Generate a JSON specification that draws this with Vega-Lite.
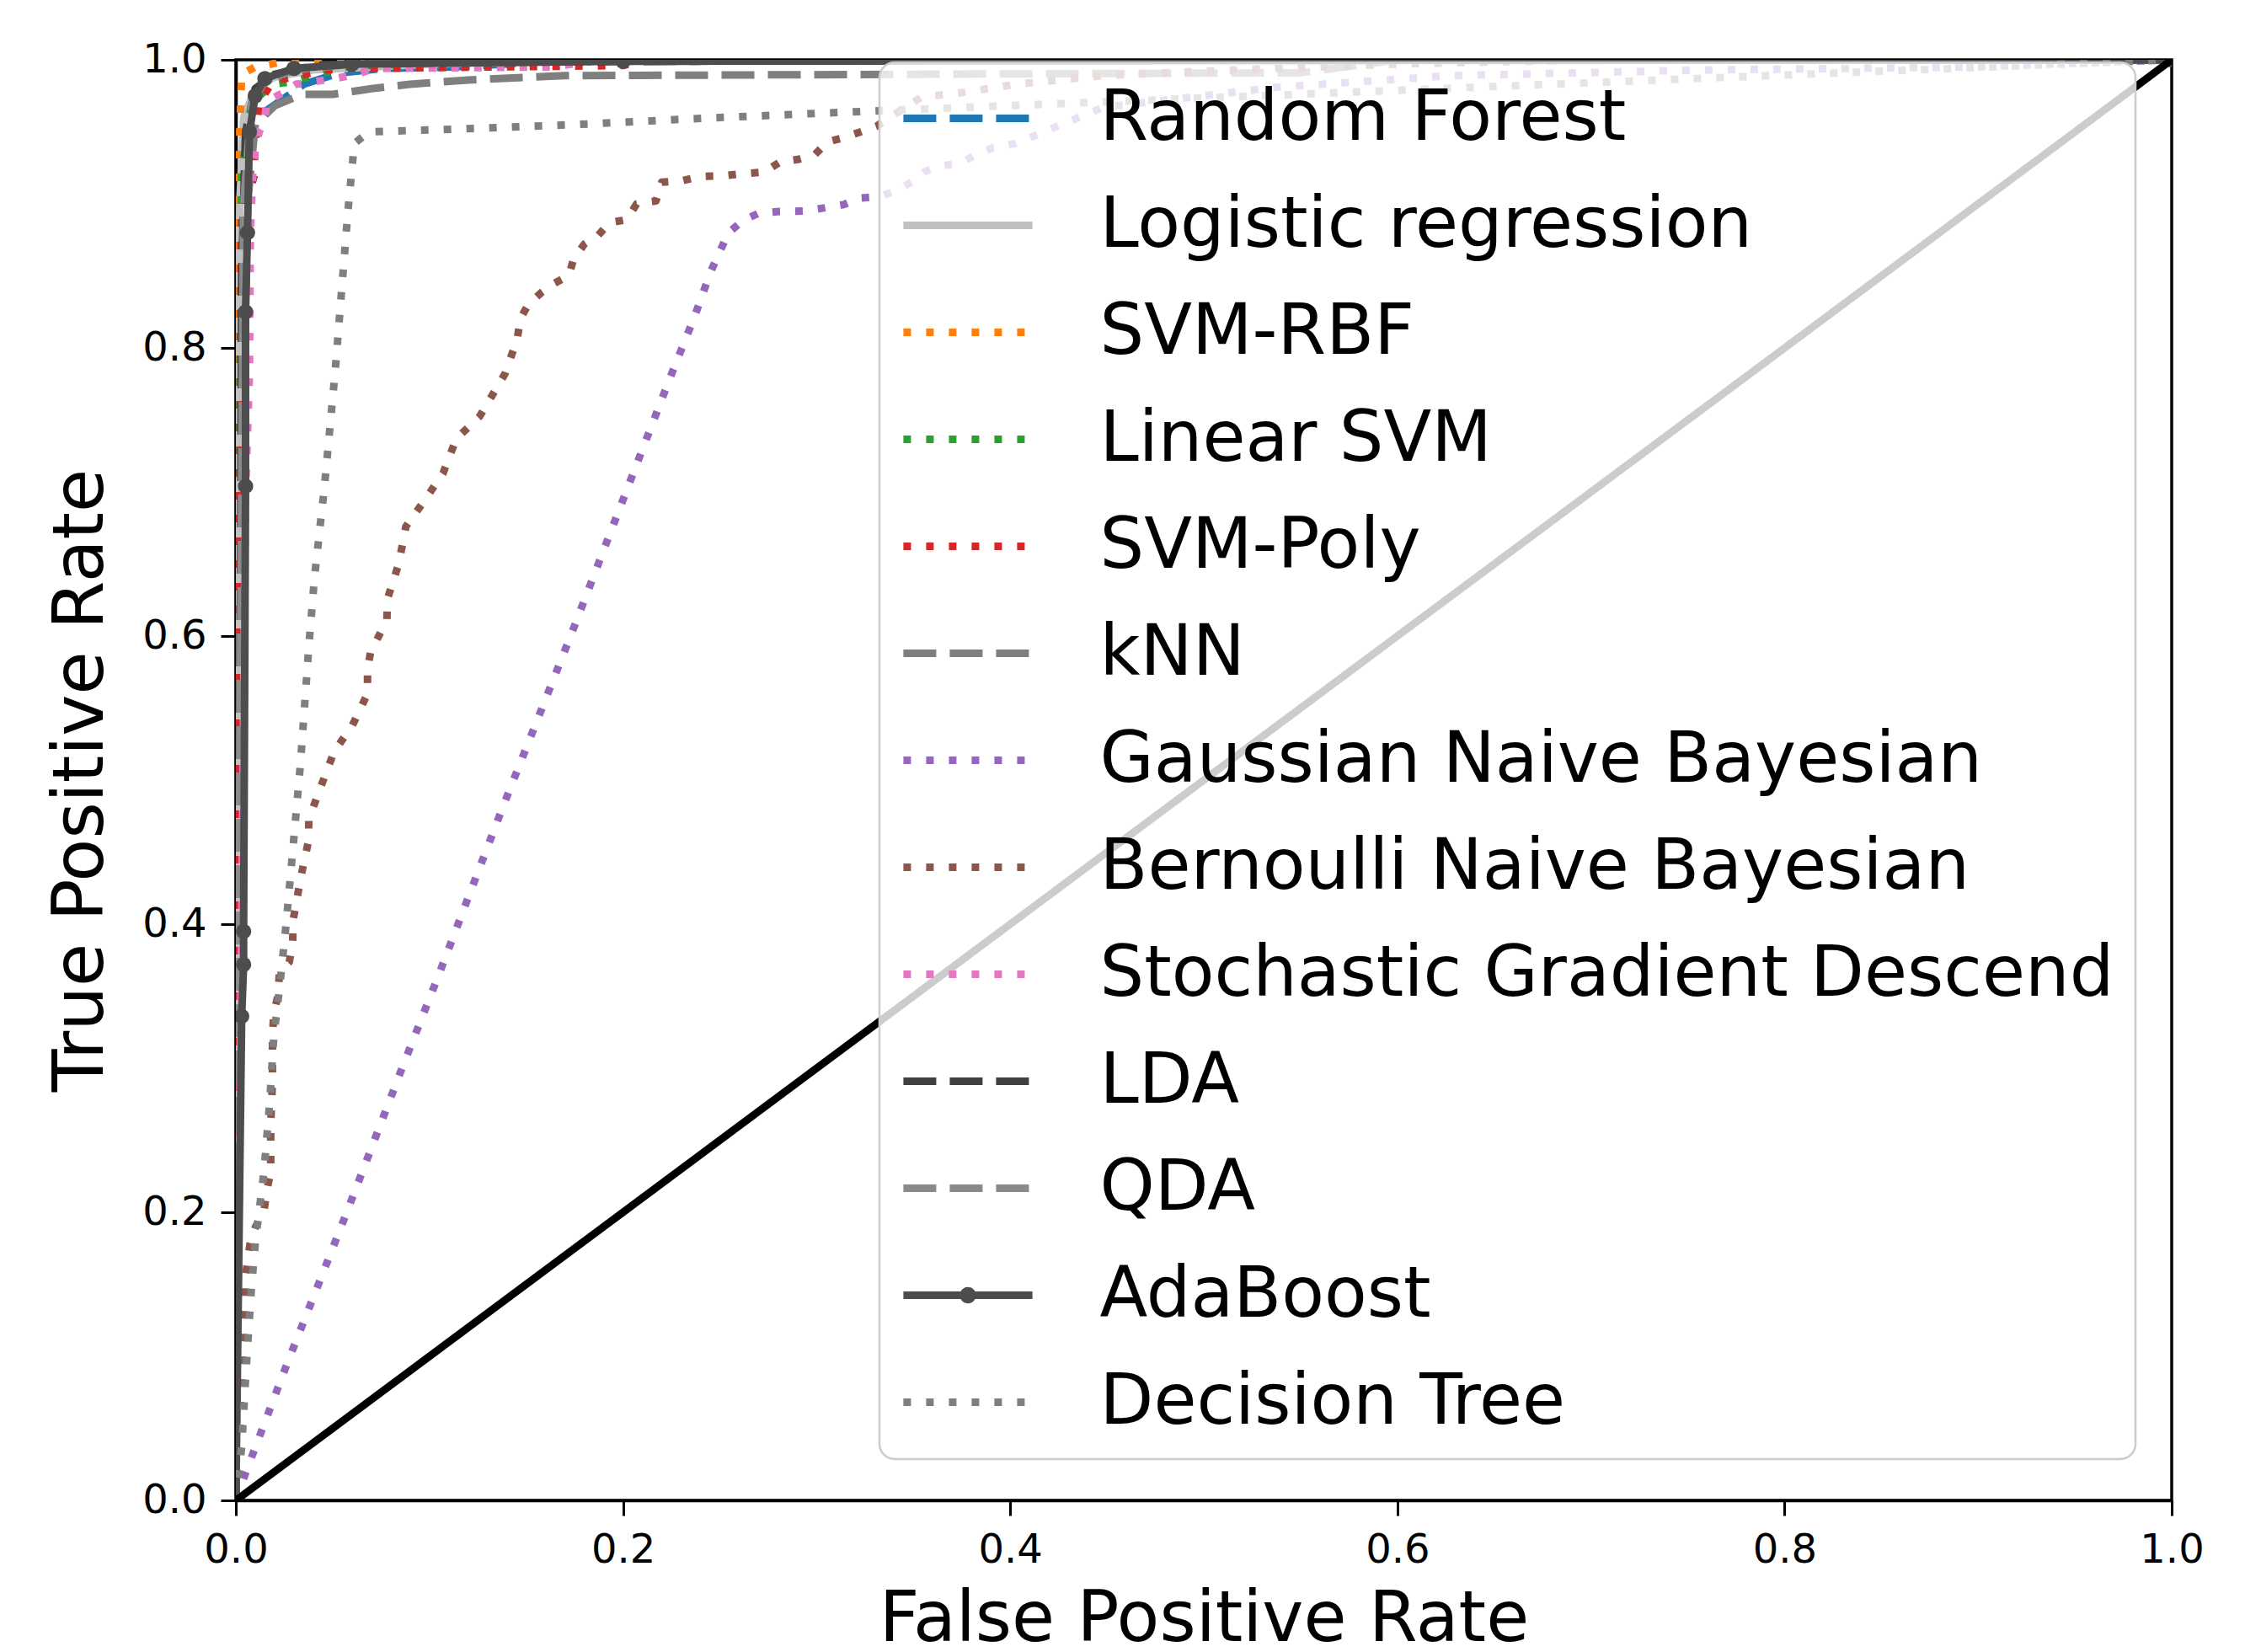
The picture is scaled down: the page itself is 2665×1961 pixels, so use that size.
{
  "$schema": "https://vega.github.io/schema/vega-lite/v6.json",
  "width": 2298,
  "height": 1710,
  "autosize": {"type": "none"},
  "padding": {"left": 280, "top": 71, "right": 87, "bottom": 180},
  "background": "white",
  "config": {
    "font": "DejaVu Sans",
    "view": {"stroke": "black", "strokeWidth": 3.5},
    "axis": {
      "domainColor": "black", "domainWidth": 3.5,
      "tickColor": "black", "tickWidth": 3, "tickSize": 18,
      "labelFont": "DejaVu Sans", "labelFontSize": 48, "labelColor": "black", "labelPadding": 17,
      "labelFlush": false, "labelOverlap": false, "labelBound": false,
      "titleFont": "DejaVu Sans", "titleFontSize": 83, "titleFontWeight": "normal", "titleColor": "black",
      "grid": false
    }
  },
  "datasets": {
    "roc": [
      {"model": "Random Forest", "fpr": 0, "tpr": 0},
      {"model": "Random Forest", "fpr": 0.001, "tpr": 0.5},
      {"model": "Random Forest", "fpr": 0.003, "tpr": 0.85},
      {"model": "Random Forest", "fpr": 0.006, "tpr": 0.93},
      {"model": "Random Forest", "fpr": 0.01, "tpr": 0.955},
      {"model": "Random Forest", "fpr": 0.016, "tpr": 0.965},
      {"model": "Random Forest", "fpr": 0.03, "tpr": 0.978},
      {"model": "Random Forest", "fpr": 0.035, "tpr": 0.983},
      {"model": "Random Forest", "fpr": 0.054, "tpr": 0.991},
      {"model": "Random Forest", "fpr": 0.076, "tpr": 0.994},
      {"model": "Random Forest", "fpr": 0.111, "tpr": 0.995},
      {"model": "Random Forest", "fpr": 0.14, "tpr": 0.997},
      {"model": "Random Forest", "fpr": 0.16, "tpr": 1},
      {"model": "Random Forest", "fpr": 1, "tpr": 1},

      {"model": "Logistic regression", "fpr": 0, "tpr": 0},
      {"model": "Logistic regression", "fpr": 0.001, "tpr": 0.5},
      {"model": "Logistic regression", "fpr": 0.002, "tpr": 0.9},
      {"model": "Logistic regression", "fpr": 0.004, "tpr": 0.96},
      {"model": "Logistic regression", "fpr": 0.01, "tpr": 0.98},
      {"model": "Logistic regression", "fpr": 0.02, "tpr": 0.988},
      {"model": "Logistic regression", "fpr": 0.04, "tpr": 0.993},
      {"model": "Logistic regression", "fpr": 0.1, "tpr": 0.997},
      {"model": "Logistic regression", "fpr": 0.2, "tpr": 1},
      {"model": "Logistic regression", "fpr": 1, "tpr": 1},

      {"model": "SVM-RBF", "fpr": 0, "tpr": 0},
      {"model": "SVM-RBF", "fpr": 0.001, "tpr": 0.6},
      {"model": "SVM-RBF", "fpr": 0.002, "tpr": 0.95},
      {"model": "SVM-RBF", "fpr": 0.003, "tpr": 0.99},
      {"model": "SVM-RBF", "fpr": 0.01, "tpr": 0.995},
      {"model": "SVM-RBF", "fpr": 0.03, "tpr": 1},
      {"model": "SVM-RBF", "fpr": 1, "tpr": 1},

      {"model": "Linear SVM", "fpr": 0, "tpr": 0},
      {"model": "Linear SVM", "fpr": 0.001, "tpr": 0.6},
      {"model": "Linear SVM", "fpr": 0.003, "tpr": 0.92},
      {"model": "Linear SVM", "fpr": 0.008, "tpr": 0.97},
      {"model": "Linear SVM", "fpr": 0.019, "tpr": 0.983},
      {"model": "Linear SVM", "fpr": 0.03, "tpr": 0.985},
      {"model": "Linear SVM", "fpr": 0.04, "tpr": 0.989},
      {"model": "Linear SVM", "fpr": 0.056, "tpr": 0.995},
      {"model": "Linear SVM", "fpr": 0.1, "tpr": 0.998},
      {"model": "Linear SVM", "fpr": 0.15, "tpr": 1},
      {"model": "Linear SVM", "fpr": 1, "tpr": 1},

      {"model": "SVM-Poly", "fpr": 0, "tpr": 0},
      {"model": "SVM-Poly", "fpr": 0.001, "tpr": 0.5},
      {"model": "SVM-Poly", "fpr": 0.003, "tpr": 0.89},
      {"model": "SVM-Poly", "fpr": 0.0096, "tpr": 0.92},
      {"model": "SVM-Poly", "fpr": 0.0096, "tpr": 0.935},
      {"model": "SVM-Poly", "fpr": 0.012, "tpr": 0.97},
      {"model": "SVM-Poly", "fpr": 0.019, "tpr": 0.985},
      {"model": "SVM-Poly", "fpr": 0.046, "tpr": 0.993},
      {"model": "SVM-Poly", "fpr": 0.06, "tpr": 0.994},
      {"model": "SVM-Poly", "fpr": 0.2, "tpr": 0.996},
      {"model": "SVM-Poly", "fpr": 0.21, "tpr": 1},
      {"model": "SVM-Poly", "fpr": 1, "tpr": 1},

      {"model": "kNN", "fpr": 0, "tpr": 0},
      {"model": "kNN", "fpr": 0.002, "tpr": 0.6},
      {"model": "kNN", "fpr": 0.006, "tpr": 0.9},
      {"model": "kNN", "fpr": 0.01, "tpr": 0.955},
      {"model": "kNN", "fpr": 0.02, "tpr": 0.968},
      {"model": "kNN", "fpr": 0.034, "tpr": 0.976},
      {"model": "kNN", "fpr": 0.05, "tpr": 0.976},
      {"model": "kNN", "fpr": 0.07, "tpr": 0.98},
      {"model": "kNN", "fpr": 0.09, "tpr": 0.983},
      {"model": "kNN", "fpr": 0.12, "tpr": 0.986},
      {"model": "kNN", "fpr": 0.17, "tpr": 0.989},
      {"model": "kNN", "fpr": 0.55, "tpr": 0.991},
      {"model": "kNN", "fpr": 0.6, "tpr": 1},
      {"model": "kNN", "fpr": 1, "tpr": 1},

      {"model": "Gaussian Naive Bayesian", "fpr": 0, "tpr": 0},
      {"model": "Gaussian Naive Bayesian", "fpr": 0.005, "tpr": 0.019},
      {"model": "Gaussian Naive Bayesian", "fpr": 0.0261, "tpr": 0.0936},
      {"model": "Gaussian Naive Bayesian", "fpr": 0.0566, "tpr": 0.1976},
      {"model": "Gaussian Naive Bayesian", "fpr": 0.0863, "tpr": 0.3017},
      {"model": "Gaussian Naive Bayesian", "fpr": 0.1037, "tpr": 0.361},
      {"model": "Gaussian Naive Bayesian", "fpr": 0.1378, "tpr": 0.481},
      {"model": "Gaussian Naive Bayesian", "fpr": 0.1726, "tpr": 0.599},
      {"model": "Gaussian Naive Bayesian", "fpr": 0.2067, "tpr": 0.718},
      {"model": "Gaussian Naive Bayesian", "fpr": 0.2245, "tpr": 0.78},
      {"model": "Gaussian Naive Bayesian", "fpr": 0.237, "tpr": 0.822},
      {"model": "Gaussian Naive Bayesian", "fpr": 0.245, "tpr": 0.852},
      {"model": "Gaussian Naive Bayesian", "fpr": 0.25, "tpr": 0.867},
      {"model": "Gaussian Naive Bayesian", "fpr": 0.2545, "tpr": 0.88},
      {"model": "Gaussian Naive Bayesian", "fpr": 0.262, "tpr": 0.8885},
      {"model": "Gaussian Naive Bayesian", "fpr": 0.27, "tpr": 0.8935},
      {"model": "Gaussian Naive Bayesian", "fpr": 0.281, "tpr": 0.8947},
      {"model": "Gaussian Naive Bayesian", "fpr": 0.293, "tpr": 0.895},
      {"model": "Gaussian Naive Bayesian", "fpr": 0.303, "tpr": 0.897},
      {"model": "Gaussian Naive Bayesian", "fpr": 0.314, "tpr": 0.8995},
      {"model": "Gaussian Naive Bayesian", "fpr": 0.322, "tpr": 0.904},
      {"model": "Gaussian Naive Bayesian", "fpr": 0.332, "tpr": 0.905},
      {"model": "Gaussian Naive Bayesian", "fpr": 0.341, "tpr": 0.909},
      {"model": "Gaussian Naive Bayesian", "fpr": 0.35, "tpr": 0.916},
      {"model": "Gaussian Naive Bayesian", "fpr": 0.356, "tpr": 0.9225},
      {"model": "Gaussian Naive Bayesian", "fpr": 0.364, "tpr": 0.9265},
      {"model": "Gaussian Naive Bayesian", "fpr": 0.374, "tpr": 0.928},
      {"model": "Gaussian Naive Bayesian", "fpr": 0.382, "tpr": 0.934},
      {"model": "Gaussian Naive Bayesian", "fpr": 0.391, "tpr": 0.939},
      {"model": "Gaussian Naive Bayesian", "fpr": 0.403, "tpr": 0.942},
      {"model": "Gaussian Naive Bayesian", "fpr": 0.448, "tpr": 0.967},
      {"model": "Gaussian Naive Bayesian", "fpr": 0.538, "tpr": 0.981},
      {"model": "Gaussian Naive Bayesian", "fpr": 0.627, "tpr": 0.989},
      {"model": "Gaussian Naive Bayesian", "fpr": 0.762, "tpr": 0.993},
      {"model": "Gaussian Naive Bayesian", "fpr": 0.896, "tpr": 0.995},
      {"model": "Gaussian Naive Bayesian", "fpr": 1, "tpr": 1},

      {"model": "Bernoulli Naive Bayesian", "fpr": 0, "tpr": 0},
      {"model": "Bernoulli Naive Bayesian", "fpr": 0.002, "tpr": 0.05},
      {"model": "Bernoulli Naive Bayesian", "fpr": 0.0044, "tpr": 0.133},
      {"model": "Bernoulli Naive Bayesian", "fpr": 0.0044, "tpr": 0.1485},
      {"model": "Bernoulli Naive Bayesian", "fpr": 0.0058, "tpr": 0.164},
      {"model": "Bernoulli Naive Bayesian", "fpr": 0.0073, "tpr": 0.178},
      {"model": "Bernoulli Naive Bayesian", "fpr": 0.0102, "tpr": 0.19},
      {"model": "Bernoulli Naive Bayesian", "fpr": 0.0145, "tpr": 0.2006},
      {"model": "Bernoulli Naive Bayesian", "fpr": 0.016, "tpr": 0.2152},
      {"model": "Bernoulli Naive Bayesian", "fpr": 0.018, "tpr": 0.228},
      {"model": "Bernoulli Naive Bayesian", "fpr": 0.018, "tpr": 0.2608},
      {"model": "Bernoulli Naive Bayesian", "fpr": 0.0189, "tpr": 0.2907},
      {"model": "Bernoulli Naive Bayesian", "fpr": 0.0189, "tpr": 0.322},
      {"model": "Bernoulli Naive Bayesian", "fpr": 0.0196, "tpr": 0.3377},
      {"model": "Bernoulli Naive Bayesian", "fpr": 0.0218, "tpr": 0.351},
      {"model": "Bernoulli Naive Bayesian", "fpr": 0.0225, "tpr": 0.3667},
      {"model": "Bernoulli Naive Bayesian", "fpr": 0.0276, "tpr": 0.3737},
      {"model": "Bernoulli Naive Bayesian", "fpr": 0.0293, "tpr": 0.387},
      {"model": "Bernoulli Naive Bayesian", "fpr": 0.0297, "tpr": 0.4035},
      {"model": "Bernoulli Naive Bayesian", "fpr": 0.0334, "tpr": 0.4316},
      {"model": "Bernoulli Naive Bayesian", "fpr": 0.0374, "tpr": 0.457},
      {"model": "Bernoulli Naive Bayesian", "fpr": 0.0377, "tpr": 0.473},
      {"model": "Bernoulli Naive Bayesian", "fpr": 0.0442, "tpr": 0.4965},
      {"model": "Bernoulli Naive Bayesian", "fpr": 0.0508, "tpr": 0.5199},
      {"model": "Bernoulli Naive Bayesian", "fpr": 0.0602, "tpr": 0.538},
      {"model": "Bernoulli Naive Bayesian", "fpr": 0.068, "tpr": 0.56},
      {"model": "Bernoulli Naive Bayesian", "fpr": 0.068, "tpr": 0.577},
      {"model": "Bernoulli Naive Bayesian", "fpr": 0.0696, "tpr": 0.589},
      {"model": "Bernoulli Naive Bayesian", "fpr": 0.078, "tpr": 0.611},
      {"model": "Bernoulli Naive Bayesian", "fpr": 0.0783, "tpr": 0.6257},
      {"model": "Bernoulli Naive Bayesian", "fpr": 0.0841, "tpr": 0.65},
      {"model": "Bernoulli Naive Bayesian", "fpr": 0.0878, "tpr": 0.676},
      {"model": "Bernoulli Naive Bayesian", "fpr": 0.0979, "tpr": 0.695},
      {"model": "Bernoulli Naive Bayesian", "fpr": 0.107, "tpr": 0.713},
      {"model": "Bernoulli Naive Bayesian", "fpr": 0.1139, "tpr": 0.737},
      {"model": "Bernoulli Naive Bayesian", "fpr": 0.126, "tpr": 0.7526},
      {"model": "Bernoulli Naive Bayesian", "fpr": 0.139, "tpr": 0.782},
      {"model": "Bernoulli Naive Bayesian", "fpr": 0.1453, "tpr": 0.806},
      {"model": "Bernoulli Naive Bayesian", "fpr": 0.147, "tpr": 0.8205},
      {"model": "Bernoulli Naive Bayesian", "fpr": 0.151, "tpr": 0.83},
      {"model": "Bernoulli Naive Bayesian", "fpr": 0.158, "tpr": 0.8387},
      {"model": "Bernoulli Naive Bayesian", "fpr": 0.1647, "tpr": 0.845},
      {"model": "Bernoulli Naive Bayesian", "fpr": 0.172, "tpr": 0.8503},
      {"model": "Bernoulli Naive Bayesian", "fpr": 0.1745, "tpr": 0.862},
      {"model": "Bernoulli Naive Bayesian", "fpr": 0.18, "tpr": 0.872},
      {"model": "Bernoulli Naive Bayesian", "fpr": 0.187, "tpr": 0.878},
      {"model": "Bernoulli Naive Bayesian", "fpr": 0.193, "tpr": 0.887},
      {"model": "Bernoulli Naive Bayesian", "fpr": 0.202, "tpr": 0.889},
      {"model": "Bernoulli Naive Bayesian", "fpr": 0.207, "tpr": 0.9},
      {"model": "Bernoulli Naive Bayesian", "fpr": 0.217, "tpr": 0.902},
      {"model": "Bernoulli Naive Bayesian", "fpr": 0.22, "tpr": 0.915},
      {"model": "Bernoulli Naive Bayesian", "fpr": 0.23, "tpr": 0.916},
      {"model": "Bernoulli Naive Bayesian", "fpr": 0.24, "tpr": 0.919},
      {"model": "Bernoulli Naive Bayesian", "fpr": 0.252, "tpr": 0.9195},
      {"model": "Bernoulli Naive Bayesian", "fpr": 0.262, "tpr": 0.921},
      {"model": "Bernoulli Naive Bayesian", "fpr": 0.273, "tpr": 0.922},
      {"model": "Bernoulli Naive Bayesian", "fpr": 0.281, "tpr": 0.929},
      {"model": "Bernoulli Naive Bayesian", "fpr": 0.291, "tpr": 0.931},
      {"model": "Bernoulli Naive Bayesian", "fpr": 0.299, "tpr": 0.934},
      {"model": "Bernoulli Naive Bayesian", "fpr": 0.3055, "tpr": 0.943},
      {"model": "Bernoulli Naive Bayesian", "fpr": 0.314, "tpr": 0.946},
      {"model": "Bernoulli Naive Bayesian", "fpr": 0.3227, "tpr": 0.95},
      {"model": "Bernoulli Naive Bayesian", "fpr": 0.331, "tpr": 0.954},
      {"model": "Bernoulli Naive Bayesian", "fpr": 0.354, "tpr": 0.974},
      {"model": "Bernoulli Naive Bayesian", "fpr": 0.374, "tpr": 0.977},
      {"model": "Bernoulli Naive Bayesian", "fpr": 0.403, "tpr": 0.983},
      {"model": "Bernoulli Naive Bayesian", "fpr": 0.448, "tpr": 0.989},
      {"model": "Bernoulli Naive Bayesian", "fpr": 0.497, "tpr": 0.992},
      {"model": "Bernoulli Naive Bayesian", "fpr": 0.6, "tpr": 0.997},
      {"model": "Bernoulli Naive Bayesian", "fpr": 0.7, "tpr": 1},
      {"model": "Bernoulli Naive Bayesian", "fpr": 1, "tpr": 1},

      {"model": "Stochastic Gradient Descend", "fpr": 0, "tpr": 0},
      {"model": "Stochastic Gradient Descend", "fpr": 0.003, "tpr": 0.4},
      {"model": "Stochastic Gradient Descend", "fpr": 0.005, "tpr": 0.7},
      {"model": "Stochastic Gradient Descend", "fpr": 0.007, "tpr": 0.78},
      {"model": "Stochastic Gradient Descend", "fpr": 0.0075, "tpr": 0.88},
      {"model": "Stochastic Gradient Descend", "fpr": 0.009, "tpr": 0.93},
      {"model": "Stochastic Gradient Descend", "fpr": 0.012, "tpr": 0.95},
      {"model": "Stochastic Gradient Descend", "fpr": 0.0146, "tpr": 0.956},
      {"model": "Stochastic Gradient Descend", "fpr": 0.016, "tpr": 0.971},
      {"model": "Stochastic Gradient Descend", "fpr": 0.024, "tpr": 0.977},
      {"model": "Stochastic Gradient Descend", "fpr": 0.031, "tpr": 0.983},
      {"model": "Stochastic Gradient Descend", "fpr": 0.041, "tpr": 0.985},
      {"model": "Stochastic Gradient Descend", "fpr": 0.051, "tpr": 0.987},
      {"model": "Stochastic Gradient Descend", "fpr": 0.063, "tpr": 0.99},
      {"model": "Stochastic Gradient Descend", "fpr": 0.071, "tpr": 0.994},
      {"model": "Stochastic Gradient Descend", "fpr": 0.163, "tpr": 0.995},
      {"model": "Stochastic Gradient Descend", "fpr": 0.19, "tpr": 1},
      {"model": "Stochastic Gradient Descend", "fpr": 1, "tpr": 1},

      {"model": "LDA", "fpr": 0, "tpr": 0},
      {"model": "LDA", "fpr": 0.002, "tpr": 0.5},
      {"model": "LDA", "fpr": 0.003, "tpr": 0.85},
      {"model": "LDA", "fpr": 0.005, "tpr": 0.95},
      {"model": "LDA", "fpr": 0.01, "tpr": 0.98},
      {"model": "LDA", "fpr": 0.02, "tpr": 0.99},
      {"model": "LDA", "fpr": 0.04, "tpr": 0.996},
      {"model": "LDA", "fpr": 0.08, "tpr": 0.998},
      {"model": "LDA", "fpr": 0.4, "tpr": 1},
      {"model": "LDA", "fpr": 1, "tpr": 1},

      {"model": "QDA", "fpr": 0, "tpr": 0},
      {"model": "QDA", "fpr": 0.002, "tpr": 0.5},
      {"model": "QDA", "fpr": 0.004, "tpr": 0.9},
      {"model": "QDA", "fpr": 0.008, "tpr": 0.97},
      {"model": "QDA", "fpr": 0.015, "tpr": 0.985},
      {"model": "QDA", "fpr": 0.03, "tpr": 0.993},
      {"model": "QDA", "fpr": 0.06, "tpr": 0.997},
      {"model": "QDA", "fpr": 0.2, "tpr": 1},
      {"model": "QDA", "fpr": 1, "tpr": 1},

      {"model": "AdaBoost", "fpr": 0, "tpr": 0},
      {"model": "AdaBoost", "fpr": 0.003, "tpr": 0.336},
      {"model": "AdaBoost", "fpr": 0.004, "tpr": 0.372},
      {"model": "AdaBoost", "fpr": 0.004, "tpr": 0.395},
      {"model": "AdaBoost", "fpr": 0.005, "tpr": 0.704},
      {"model": "AdaBoost", "fpr": 0.005, "tpr": 0.825},
      {"model": "AdaBoost", "fpr": 0.006, "tpr": 0.88},
      {"model": "AdaBoost", "fpr": 0.007, "tpr": 0.95},
      {"model": "AdaBoost", "fpr": 0.01, "tpr": 0.975},
      {"model": "AdaBoost", "fpr": 0.015, "tpr": 0.987},
      {"model": "AdaBoost", "fpr": 0.03, "tpr": 0.994},
      {"model": "AdaBoost", "fpr": 0.06, "tpr": 0.997},
      {"model": "AdaBoost", "fpr": 0.2, "tpr": 0.999},
      {"model": "AdaBoost", "fpr": 1, "tpr": 1},

      {"model": "Decision Tree", "fpr": 0, "tpr": 0},
      {"model": "Decision Tree", "fpr": 0.003, "tpr": 0.037},
      {"model": "Decision Tree", "fpr": 0.005, "tpr": 0.084},
      {"model": "Decision Tree", "fpr": 0.0065, "tpr": 0.116},
      {"model": "Decision Tree", "fpr": 0.008, "tpr": 0.147},
      {"model": "Decision Tree", "fpr": 0.0102, "tpr": 0.181},
      {"model": "Decision Tree", "fpr": 0.0145, "tpr": 0.228},
      {"model": "Decision Tree", "fpr": 0.0174, "tpr": 0.275},
      {"model": "Decision Tree", "fpr": 0.0196, "tpr": 0.322},
      {"model": "Decision Tree", "fpr": 0.0225, "tpr": 0.355},
      {"model": "Decision Tree", "fpr": 0.0261, "tpr": 0.402},
      {"model": "Decision Tree", "fpr": 0.0305, "tpr": 0.468},
      {"model": "Decision Tree", "fpr": 0.0334, "tpr": 0.512},
      {"model": "Decision Tree", "fpr": 0.0377, "tpr": 0.593},
      {"model": "Decision Tree", "fpr": 0.0406, "tpr": 0.6405},
      {"model": "Decision Tree", "fpr": 0.0457, "tpr": 0.703},
      {"model": "Decision Tree", "fpr": 0.0513, "tpr": 0.784},
      {"model": "Decision Tree", "fpr": 0.0579, "tpr": 0.895},
      {"model": "Decision Tree", "fpr": 0.0612, "tpr": 0.942},
      {"model": "Decision Tree", "fpr": 0.0688, "tpr": 0.95},
      {"model": "Decision Tree", "fpr": 0.116, "tpr": 0.952},
      {"model": "Decision Tree", "fpr": 0.1745, "tpr": 0.955},
      {"model": "Decision Tree", "fpr": 0.246, "tpr": 0.9597},
      {"model": "Decision Tree", "fpr": 0.33, "tpr": 0.9645},
      {"model": "Decision Tree", "fpr": 1, "tpr": 1}
    ],
    "chance": [
      {"fpr": 0, "tpr": 0},
      {"fpr": 1, "tpr": 1}
    ]
  },
  "layer": [
    {
      "data": {"name": "roc"},
      "mark": {"type": "line", "strokeWidth": 9, "strokeJoin": "round", "clip": true},
      "encoding": {
        "x": {"field": "fpr", "type": "quantitative",
              "scale": {"domain": [0, 1], "nice": false, "zero": false},
              "axis": {"title": "False Positive Rate", "values": [0, 0.2, 0.4, 0.6, 0.8, 1.0], "format": ".1f", "titlePadding": 17}},
        "y": {"field": "tpr", "type": "quantitative",
              "scale": {"domain": [0, 1], "nice": false, "zero": false},
              "axis": {"title": "True Positive Rate", "values": [0, 0.2, 0.4, 0.6, 0.8, 1.0], "format": ".1f", "titlePadding": 30}},
        "order": [{"field": "fpr", "type": "quantitative"}, {"field": "tpr", "type": "quantitative"}],
        "color": {
          "field": "model", "type": "nominal",
          "scale": {
            "domain": ["Random Forest", "Logistic regression", "SVM-RBF", "Linear SVM", "SVM-Poly", "kNN", "Gaussian Naive Bayesian", "Bernoulli Naive Bayesian", "Stochastic Gradient Descend", "LDA", "QDA", "AdaBoost", "Decision Tree"],
            "range": ["#1f77b4", "#c0c0c0", "#ff7f0e", "#2ca02c", "#d62728", "#7f7f7f", "#9467bd", "#8c564b", "#e377c2", "#404040", "#8a8a8a", "#4d4d4d", "#7f7f7f"]
          },
          "legend": {
            "title": null,
            "orient": "none", "legendX": 764, "legendY": 3,
            "fillColor": "rgba(255,255,255,0.8)", "strokeColor": "#cccccc", "cornerRadius": 18, "padding": 25,
            "symbolType": "stroke", "symbolSize": 5476, "symbolStrokeWidth": 9, "symbolOffset": 38.5,
            "labelFont": "DejaVu Sans", "labelFontSize": 83, "labelColor": "black", "labelOffset": 115, "labelLimit": 3000,
            "rowPadding": 43,
            "encode": {
              "legend": {"update": {"strokeWidth": {"value": 2.5}}},
              "symbols": {"update": {"shape": {"signal": "datum.label === 'AdaBoost' ? 'M-2.07,0H2.07M0.14,0A0.14,0.14,0,1,1,-0.14,0A0.14,0.14,0,1,1,0.14,0' : 'M-2.07,0H2.07'"}}}
            }
          }
        },
        "strokeDash": {
          "field": "model", "type": "nominal",
          "scale": {
            "domain": ["Random Forest", "Logistic regression", "SVM-RBF", "Linear SVM", "SVM-Poly", "kNN", "Gaussian Naive Bayesian", "Bernoulli Naive Bayesian", "Stochastic Gradient Descend", "LDA", "QDA", "AdaBoost", "Decision Tree"],
            "range": [[39, 16], [1, 0], [9, 18], [9, 18], [9, 18], [39, 16], [9, 18], [9, 18], [9, 18], [39, 16], [39, 16], [1, 0], [9, 18]]
          }
        }
      }
    },
    {
      "data": {"name": "roc"},
      "transform": [{"filter": "datum.model === 'AdaBoost'"}],
      "mark": {"type": "point", "filled": true, "size": 330, "color": "#4d4d4d", "opacity": 1, "clip": true},
      "encoding": {
        "x": {"field": "fpr", "type": "quantitative"},
        "y": {"field": "tpr", "type": "quantitative"}
      }
    },
    {
      "data": {"name": "chance"},
      "mark": {"type": "line", "color": "black", "strokeWidth": 9, "clip": true},
      "encoding": {
        "x": {"field": "fpr", "type": "quantitative"},
        "y": {"field": "tpr", "type": "quantitative"}
      }
    }
  ]
}
